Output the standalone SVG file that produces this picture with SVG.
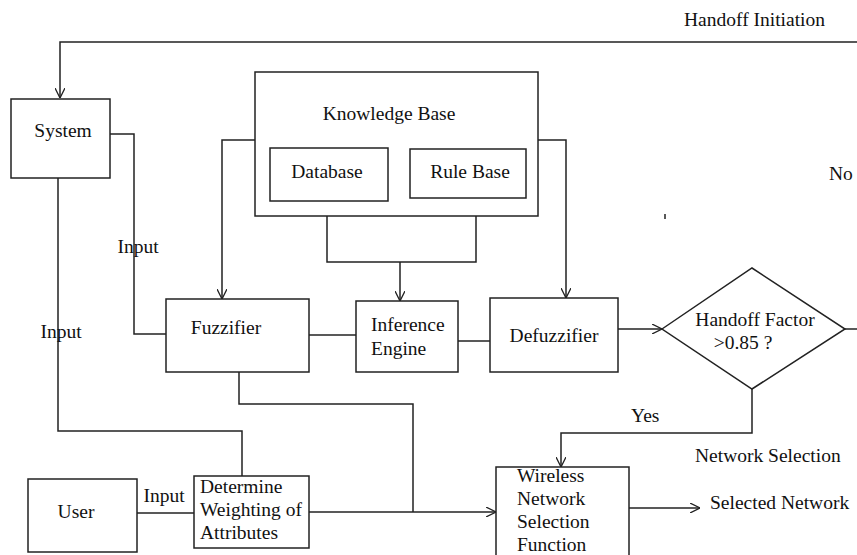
<svg xmlns="http://www.w3.org/2000/svg" width="857" height="555" viewBox="0 0 857 555">
<style>
.b{fill:#fff;stroke:#222;stroke-width:1.5}
.l{fill:none;stroke:#222;stroke-width:1.5}
text{font-family:"Liberation Serif","Times New Roman",serif;font-size:19.5px;fill:#111}
.m{text-anchor:middle}
</style>
<defs>
<marker id="a" viewBox="0 0 10 10" refX="10" refY="5" markerWidth="10" markerHeight="10" markerUnits="userSpaceOnUse" orient="auto">
<path d="M0,0 L10,5 L0,10" fill="none" stroke="#222" stroke-width="1.3"/>
</marker>
</defs>
<rect width="857" height="555" fill="#fff"/>
<g id="connectors">
<path class="l" d="M857,42 H60 V98" marker-end="url(#a)"/>
<path class="l" d="M110,134 H134 V334 H166"/>
<path class="l" d="M58,178 V431 H242 V476"/>
<path class="l" d="M255,140 H222 V299" marker-end="url(#a)"/>
<path class="l" d="M538,140 H566 V298" marker-end="url(#a)"/>
<path class="l" d="M327,201 V262 H476 V198"/>
<path class="l" d="M400,262 V301" marker-end="url(#a)"/>
<path class="l" d="M309,335 H356"/>
<path class="l" d="M458,341 H490"/>
<path class="l" d="M618,329 H662" marker-end="url(#a)"/>
<path class="l" d="M845,329 H857"/>
<path class="l" d="M752,389 V433 H561 V467" marker-end="url(#a)"/>
<path class="l" d="M239,372 V404 H413 V512"/>
<path class="l" d="M309,512 H496" marker-end="url(#a)"/>
<path class="l" d="M137,513 H194"/>
<path class="l" d="M629,508 H700" marker-end="url(#a)"/>
<path class="l" d="M665,214 V219"/>
</g>
<g id="system"><rect class="b" x="11" y="99" width="99" height="79"/><text x="63" y="137" class="m">System</text></g>
<g id="knowledge-base"><rect class="b" x="255" y="72" width="283" height="144"/><text x="389" y="120" class="m">Knowledge Base</text></g>
<g id="database"><rect class="b" x="270" y="148" width="118" height="53"/><text x="327" y="178" class="m">Database</text></g>
<g id="rule-base"><rect class="b" x="410" y="149" width="116" height="49"/><text x="470" y="178" class="m">Rule Base</text></g>
<g id="fuzzifier"><rect class="b" x="166" y="299" width="143" height="73"/><text x="226" y="334" class="m">Fuzzifier</text></g>
<g id="inference"><rect class="b" x="356" y="301" width="102" height="71"/><text x="371" y="331">Inference</text><text x="371" y="355">Engine</text></g>
<g id="defuzzifier"><rect class="b" x="490" y="298" width="128" height="74"/><text x="554" y="342" class="m">Defuzzifier</text></g>
<g id="decision"><polygon class="b" points="662,329 752,268 845,329 752,389"/><text x="755" y="326" class="m">Handoff Factor</text><text x="743" y="349" class="m">&gt;0.85 ?</text></g>
<g id="wireless"><rect class="b" x="496" y="467" width="133" height="100"/><text x="517" y="482">Wireless</text><text x="517" y="505">Network</text><text x="517" y="528">Selection</text><text x="517" y="551">Function</text></g>
<g id="user"><rect class="b" x="28" y="479" width="109" height="73"/><text x="76" y="518" class="m">User</text></g>
<g id="determine"><rect class="b" x="194" y="476" width="115" height="72"/><text x="200" y="493">Determine</text><text x="200" y="516">Weighting of</text><text x="200" y="539">Attributes</text></g>
<g id="labels">
<text x="684" y="26">Handoff Initiation</text>
<text x="829" y="180">No</text>
<text x="138" y="253" class="m">Input</text>
<text x="61" y="338" class="m">Input</text>
<text x="164" y="502" class="m">Input</text>
<text x="631" y="422">Yes</text>
<text x="695" y="462">Network Selection</text>
<text x="710" y="509">Selected Network</text>
</g>
</svg>
